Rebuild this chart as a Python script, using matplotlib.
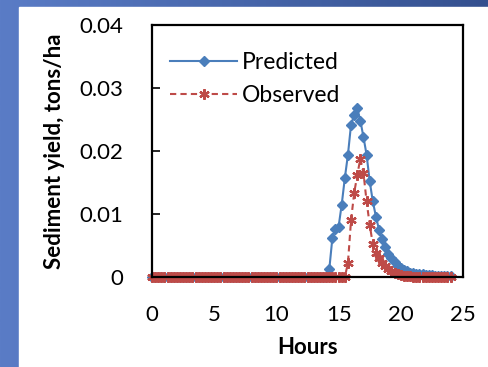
import numpy as np
import matplotlib
matplotlib.use("Agg")
import matplotlib.pyplot as plt
from matplotlib.patches import Rectangle

# time in hours, 15-minute steps
hours = np.arange(0, 24.01, 0.25)

# non-zero parts of each series (start hour, values every 0.25 h)
pred_start = 14.25
pred_vals = [0.0012, 0.0062, 0.0076, 0.0080, 0.0115, 0.0157, 0.0194, 0.0242,
             0.0257, 0.0268, 0.0248, 0.0222, 0.0194, 0.0152, 0.0120, 0.0096,
             0.0075, 0.0060, 0.0047, 0.0037, 0.0030, 0.0024, 0.0018, 0.0014,
             0.0011, 0.0009, 0.0007, 0.0006, 0.0005, 0.0004, 0.0004, 0.0003,
             0.0003, 0.0003, 0.0002, 0.0002, 0.0002, 0.0002, 0.0002, 0.0002]
obs_start = 15.75
obs_vals = [0.0022, 0.0090, 0.0133, 0.0162, 0.0188, 0.0165, 0.0120, 0.0083,
            0.0052, 0.0038, 0.0030, 0.0023, 0.0017, 0.0013, 0.0010, 0.0007,
            0.0005, 0.0003, 0.0002, 0.0001, 0.0001]

predicted = np.zeros_like(hours)
i0 = int(round(pred_start / 0.25))
predicted[i0:i0 + len(pred_vals)] = pred_vals[:len(hours) - i0]
observed = np.zeros_like(hours)
j0 = int(round(obs_start / 0.25))
observed[j0:j0 + len(obs_vals)] = obs_vals

plt.rcParams["font.family"] = ["Lato", "DejaVu Sans"]

fig = plt.figure(figsize=(4.88, 3.67), dpi=100)

# blue slide background with white panel
bg = fig.add_axes([0, 0, 1, 1], zorder=-10)
grad = np.linspace(0, 1, 256)[None, :]
cmap = matplotlib.colors.LinearSegmentedColormap.from_list("bg", ["#5a7cc6", "#34508f"])
bg.imshow(grad, aspect="auto", cmap=cmap, extent=[0, 1, 0, 1])
bg.add_patch(Rectangle((19 / 488, 0), 1, (367 - 7) / 367, color="white"))
bg.set_xlim(0, 1)
bg.set_ylim(0, 1)
bg.axis("off")

ax = fig.add_axes([152 / 488, 90 / 367, 311 / 488, 252 / 367])

ax.plot(hours, predicted, color="#4a7ebb", lw=1.5, marker="D", ms=5,
        mec="#4a7ebb", mfc="#4a7ebb", label="Predicted", clip_on=False)
ax.plot(hours, observed, color="#be4b48", lw=1.5, ls=(0, (3, 2)), marker=(6, 2, 0),
        ms=7.5, mew=1.6, mec="#be4b48", label="Observed", clip_on=False)

ax.set_xlim(0, 25)
ax.set_ylim(0, 0.04)
ax.set_xticks([0, 5, 10, 15, 20, 25])
ax.set_yticks([0, 0.01, 0.02, 0.03, 0.04])
ax.set_yticklabels(["0", "0.01", "0.02", "0.03", "0.04"])
ax.tick_params(axis="y", direction="in", length=6, width=1.2, pad=21, labelsize=16)
ax.tick_params(axis="x", direction="in", length=3, width=1.2, pad=20, labelsize=16)
for s in ax.spines.values():
    s.set_linewidth(1.6)

ax.set_xlabel("Hours", fontsize=16, fontweight="bold", labelpad=9)
ax.set_ylabel("Sediment yield, tons/ha", fontsize=16, fontweight="bold", labelpad=10)

ax.legend(loc="upper left", frameon=False, fontsize=16.5, handlelength=2.9,
          bbox_to_anchor=(0.03, 0.93), borderaxespad=0, labelspacing=0.55,
          handletextpad=0.2)

fig.savefig("out.png", dpi=100)
